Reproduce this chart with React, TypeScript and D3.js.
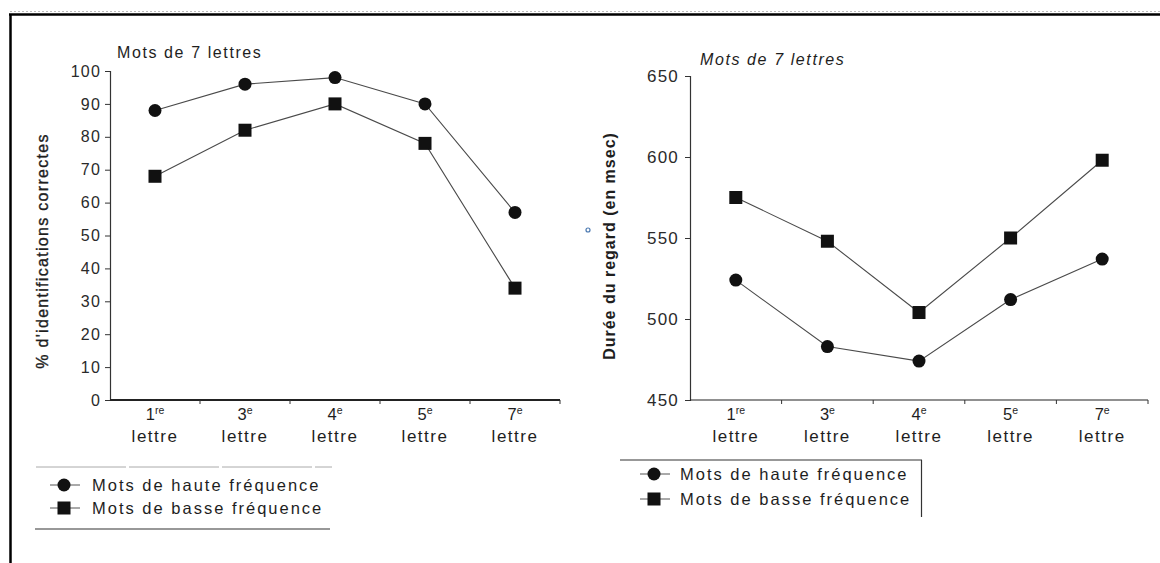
import { useEffect, useRef } from 'react';
import * as d3 from 'd3';

// letter positions on the x axis (number + French ordinal suffix)
const positions = ['1', '3', '4', '5', '7'];
const suffixes = ['re', 'e', 'e', 'e', 'e'];
const seriesNames = ['Mots de haute fréquence', 'Mots de basse fréquence'];

// left panel: % correct identifications
const accuracyHigh = [88, 96, 98, 90, 57];
const accuracyLow = [68, 82, 90, 78, 34];
const accuracyTicks = [0, 10, 20, 30, 40, 50, 60, 70, 80, 90, 100];

// right panel: gaze duration (msec)
const gazeHigh = [524, 483, 474, 512, 537];
const gazeLow = [575, 548, 504, 550, 598];
const gazeTicks = [450, 500, 550, 600, 650];

const FONT = '"Liberation Sans", Arial, Helvetica, sans-serif';
const INK = '#1e1e1e';

interface PanelOpts {
  left: number;
  right: number;
  top: number;
  bottom: number;
  domain: [number, number];
  ticks: number[];
  high: number[];
  low: number[];
  title: string;
  titleX: number;
  titleY: number;
  italicTitle: boolean;
  yLabel: string;
  yLabelX: number;
  yLabelY: number;
  yLabelBold: boolean;
  tickFont: number;
  tickPad: number;
  axisWidth: number;
}

function drawPanel(svg: d3.Selection<SVGSVGElement, unknown, null, undefined>, o: PanelOpts) {
  const g = svg.append('g');

  const x = d3.scaleBand<string>().domain(positions).range([o.left, o.right]);
  const y = d3.scaleLinear().domain(o.domain).range([o.bottom, o.top]);

  // y axis
  const yAxis = g.append('g')
    .attr('transform', `translate(${o.left},0)`)
    .call(d3.axisLeft(y).tickValues(o.ticks).tickSize(5).tickPadding(o.tickPad).tickFormat(d3.format('d')));
  yAxis.select('.domain').attr('stroke', '#333').attr('stroke-width', 1.2);
  yAxis.selectAll('.tick line').attr('stroke', '#333');
  yAxis.selectAll('.tick text')
    .attr('font-family', FONT)
    .attr('font-size', o.tickFont)
    .attr('letter-spacing', 1.2)
    .attr('fill', '#2a2a2a');

  // x axis line + ticks between categories
  g.append('line')
    .attr('x1', o.left).attr('x2', o.right)
    .attr('y1', o.bottom).attr('y2', o.bottom)
    .attr('stroke', '#222').attr('stroke-width', o.axisWidth);
  g.selectAll('.xtick')
    .data(positions)
    .enter()
    .append('line')
    .attr('x1', d => (x(d) as number) + x.step())
    .attr('x2', d => (x(d) as number) + x.step())
    .attr('y1', o.bottom)
    .attr('y2', o.bottom + 4)
    .attr('stroke', '#333');

  // x labels: "1re" / "lettre"
  const labels = g.selectAll('.xlab')
    .data(positions)
    .enter()
    .append('g')
    .attr('transform', d => `translate(${(x(d) as number) + x.bandwidth() / 2},0)`);
  const first = labels.append('text')
    .attr('y', o.bottom + 20)
    .attr('text-anchor', 'middle')
    .attr('font-family', FONT)
    .attr('font-size', 16.5)
    .attr('fill', INK);
  first.append('tspan').text(d => d);
  first.append('tspan')
    .attr('dy', -6)
    .attr('font-size', 10.5)
    .text((_, i) => suffixes[i]);
  labels.append('text')
    .attr('y', o.bottom + 42)
    .attr('text-anchor', 'middle')
    .attr('font-family', FONT)
    .attr('font-size', 17)
    .attr('letter-spacing', 1.5)
    .attr('fill', INK)
    .text('lettre');

  // connecting lines
  const line = d3.line<number>()
    .x((_, i) => (x(positions[i]) as number) + x.bandwidth() / 2)
    .y(d => y(d));
  [o.high, o.low].forEach(series => {
    g.append('path')
      .attr('d', line(series) as string)
      .attr('fill', 'none')
      .attr('stroke', '#4a4a4a')
      .attr('stroke-width', 1.1);
  });

  // markers
  g.selectAll('.hi')
    .data(o.high)
    .enter()
    .append('circle')
    .attr('cx', (_, i) => (x(positions[i]) as number) + x.bandwidth() / 2)
    .attr('cy', d => y(d))
    .attr('r', 6.5)
    .attr('fill', '#111');
  g.selectAll('.lo')
    .data(o.low)
    .enter()
    .append('rect')
    .attr('x', (_, i) => (x(positions[i]) as number) + x.bandwidth() / 2 - 6.5)
    .attr('y', d => y(d) - 6.5)
    .attr('width', 13)
    .attr('height', 13)
    .attr('fill', '#111');

  // title
  g.append('text')
    .attr('x', o.titleX)
    .attr('y', o.titleY)
    .attr('font-family', FONT)
    .attr('font-size', 16)
    .attr('font-style', o.italicTitle ? 'italic' : 'normal')
    .attr('letter-spacing', 1.6)
    .attr('fill', INK)
    .text(o.title);

  // y label
  g.append('text')
    .attr('transform', `translate(${o.yLabelX},${o.yLabelY}) rotate(-90)`)
    .attr('text-anchor', 'middle')
    .attr('font-family', FONT)
    .attr('font-size', 16)
    .attr('font-weight', o.yLabelBold ? 'bold' : 'normal')
    .attr('stroke', o.yLabelBold ? 'none' : INK)
    .attr('stroke-width', 0.35)
    .attr('letter-spacing', o.yLabelBold ? 1 : 1.3)
    .attr('fill', INK)
    .text(o.yLabel);
}

function drawLegend(svg: d3.Selection<SVGSVGElement, unknown, null, undefined>, lx: number, ly: number, textX: number, gap: number) {
  const g = svg.append('g');
  seriesNames.forEach((name, i) => {
    const cy = ly + i * gap;
    g.append('line')
      .attr('x1', lx - 14).attr('x2', lx + 16)
      .attr('y1', cy).attr('y2', cy)
      .attr('stroke', '#555');
    if (i === 0) {
      g.append('circle').attr('cx', lx).attr('cy', cy).attr('r', 6.5).attr('fill', '#111');
    } else {
      g.append('rect').attr('x', lx - 6.5).attr('y', cy - 6.5).attr('width', 13).attr('height', 13).attr('fill', '#111');
    }
    g.append('text')
      .attr('x', textX)
      .attr('y', cy + 6)
      .attr('font-family', FONT)
      .attr('font-size', 16.5)
      .attr('letter-spacing', 2)
      .attr('fill', INK)
      .text(name);
  });
  return g;
}

export default function App() {
  const svgRef = useRef<SVGSVGElement>(null);

  useEffect(() => {
    if (!svgRef.current) return;
    const svg = d3.select(svgRef.current);
    svg.selectAll('*').remove();

    svg.append('rect').attr('width', 1160).attr('height', 563).attr('fill', '#fff');

    // scan frame: top and left edges
    svg.append('line').attr('x1', 10).attr('x2', 1160).attr('y1', 11.5).attr('y2', 11.5)
      .attr('stroke', '#bbb').attr('stroke-dasharray', '2 2');
    svg.append('line').attr('x1', 9).attr('x2', 1160).attr('y1', 14.5).attr('y2', 14.5)
      .attr('stroke', '#000').attr('stroke-width', 2.5);
    svg.append('line').attr('x1', 10.5).attr('x2', 10.5).attr('y1', 14).attr('y2', 563)
      .attr('stroke', '#000').attr('stroke-width', 2.5);

    drawPanel(svg, {
      left: 110, right: 560, top: 71, bottom: 400,
      domain: [0, 100], ticks: accuracyTicks,
      high: accuracyHigh, low: accuracyLow,
      title: 'Mots de 7 lettres', titleX: 117, titleY: 58, italicTitle: false,
      yLabel: "% d'identifications correctes", yLabelX: 48, yLabelY: 251, yLabelBold: false,
      tickFont: 16, tickPad: 4, axisWidth: 2,
    });
    drawPanel(svg, {
      left: 690, right: 1148, top: 76, bottom: 400,
      domain: [450, 650], ticks: gazeTicks,
      high: gazeHigh, low: gazeLow,
      title: 'Mots de 7 lettres', titleX: 700, titleY: 65, italicTitle: true,
      yLabel: 'Durée du regard (en msec)', yLabelX: 615, yLabelY: 246, yLabelBold: true,
      tickFont: 17, tickPad: 6, axisWidth: 1.2,
    });

    // left legend with rules above and below
    svg.append('line').attr('x1', 36).attr('x2', 332).attr('y1', 467).attr('y2', 467)
      .attr('stroke', '#aaa').attr('stroke-dasharray', '90 3');
    svg.append('line').attr('x1', 35).attr('x2', 330).attr('y1', 529).attr('y2', 529)
      .attr('stroke', '#333').attr('stroke-width', 1.2);
    drawLegend(svg, 64, 485, 92, 23);

    // right legend box (top and right edges)
    svg.append('line').attr('x1', 620).attr('x2', 922).attr('y1', 460).attr('y2', 460)
      .attr('stroke', '#333').attr('stroke-width', 1.2);
    svg.append('line').attr('x1', 921.5).attr('x2', 921.5).attr('y1', 460).attr('y2', 517)
      .attr('stroke', '#333').attr('stroke-width', 1.2);
    drawLegend(svg, 654, 474, 680, 25);

    // small blue speck from the scan
    svg.append('circle').attr('cx', 588).attr('cy', 230).attr('r', 2)
      .attr('fill', 'none').attr('stroke', '#4a78b0').attr('stroke-width', 1.2);
  }, []);

  return (
    <svg
      ref={svgRef}
      width={1160}
      height={563}
      style={{ position: 'absolute', left: 0, top: 0, display: 'block' }}
    />
  );
}
